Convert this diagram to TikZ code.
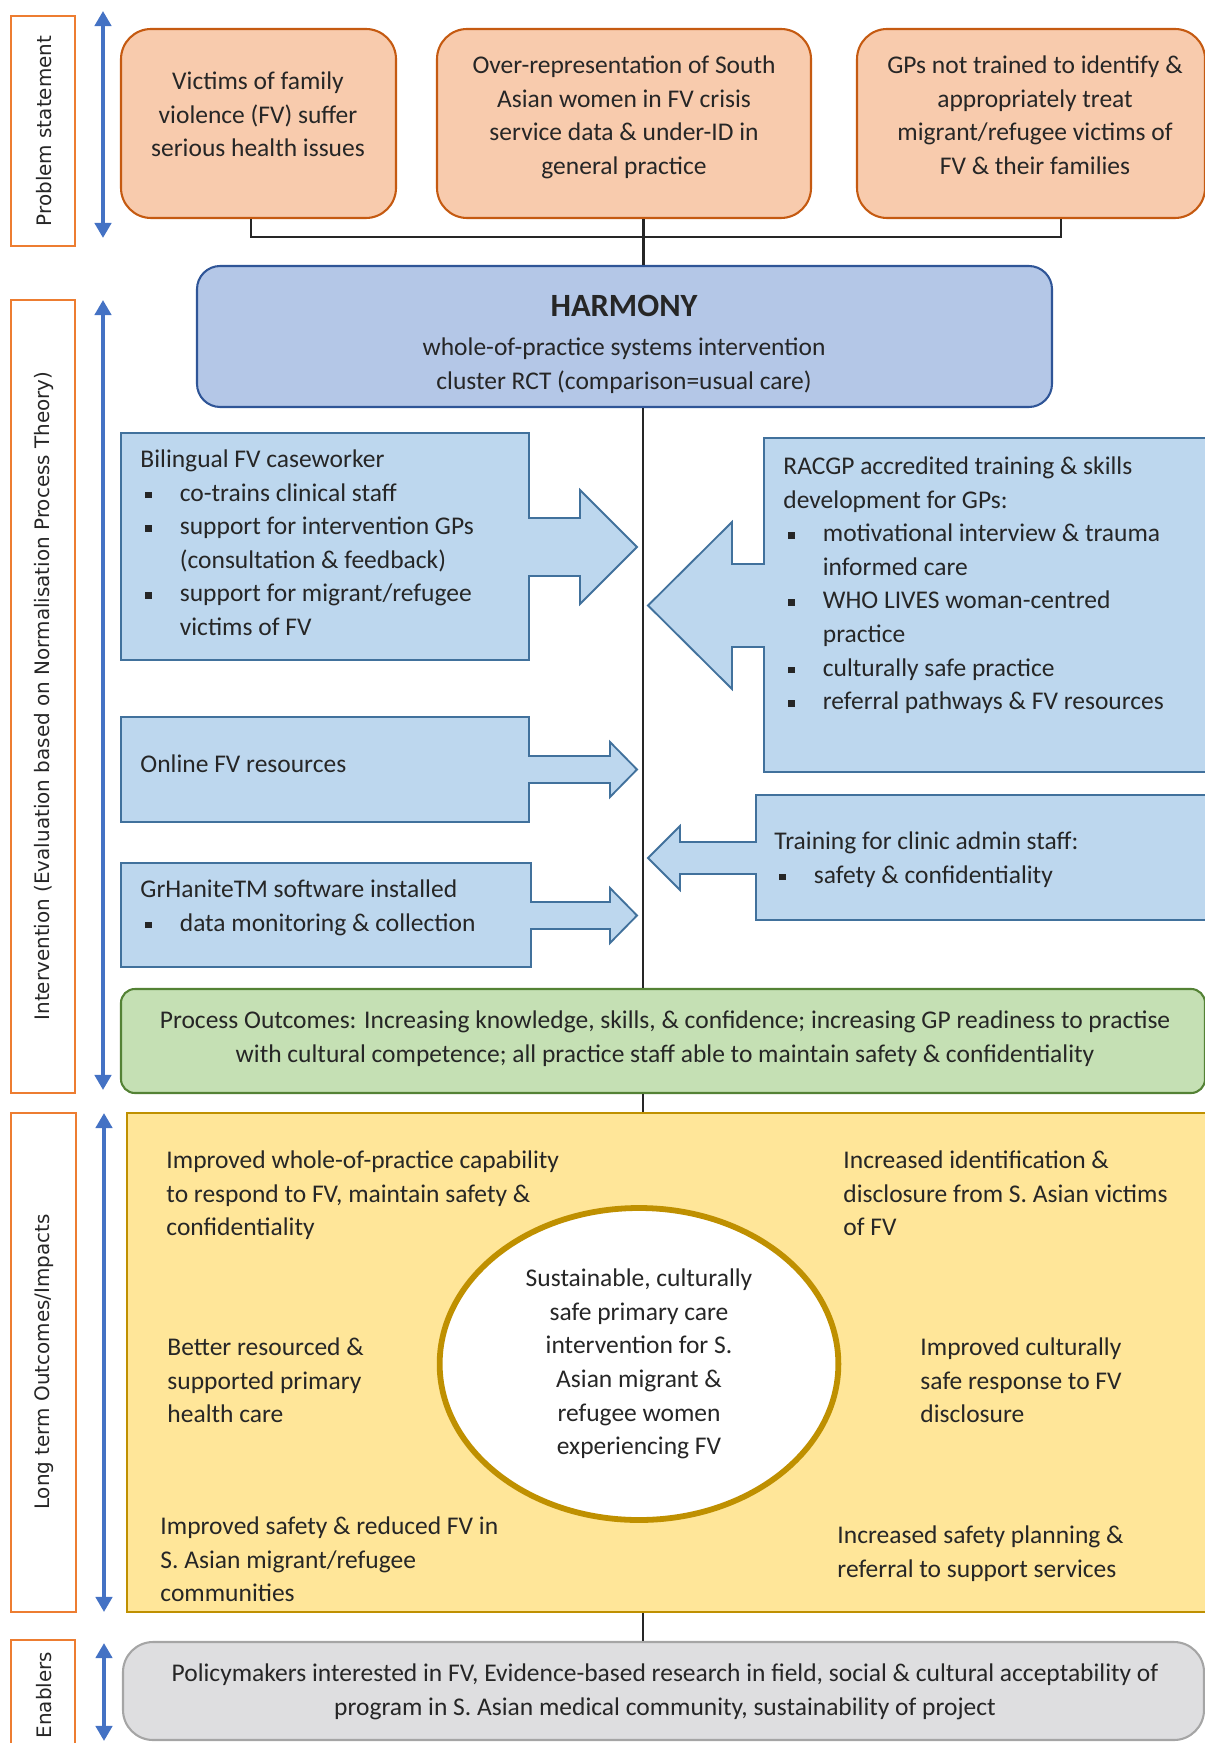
\documentclass[tikz,border=0pt]{standalone}
\usepackage{fontspec}
\setmainfont{Carlito}
\newfontfamily\lblfont{DejaVu Sans}
\usepackage{tikz}
\usetikzlibrary{fit,shapes.geometric,arrows.meta}

\definecolor{lorange}{HTML}{ED7D31}
\definecolor{pfill}{HTML}{F8CBAD}
\definecolor{pdraw}{HTML}{C55A11}
\definecolor{hfill}{HTML}{B4C7E7}
\definecolor{hdraw}{HTML}{2F5597}
\definecolor{ifill}{HTML}{BDD7EE}
\definecolor{idraw}{HTML}{41719C}
\definecolor{gfill}{HTML}{C5E0B4}
\definecolor{gdraw}{HTML}{548235}
\definecolor{yfill}{HTML}{FFE699}
\definecolor{ydraw}{HTML}{BF9000}
\definecolor{efill}{HTML}{DEDEE0}
\definecolor{edraw}{HTML}{A5A5A5}
\definecolor{barrow}{HTML}{4472C4}
\definecolor{tdark}{HTML}{262626}

\newcommand{\bul}{\makebox[17pt][l]{\hspace{2pt}\rule[1.3pt]{2.8pt}{2.8pt}}}
\newcommand{\ind}{\hspace*{17pt}}

\tikzset{
  body/.style={font=\fontsize{11}{14.5}\selectfont, text=tdark},
  txt/.style={body, align=left, anchor=north west, inner sep=0pt, yshift=6.8pt, execute at begin node=\strut},
  ctxt/.style={body, align=center, anchor=north, inner sep=0pt, yshift=6.8pt, execute at begin node=\strut},
  lblbox/.style={draw=lorange, line width=0.9pt, fill=white, inner sep=0pt},
  lbltext/.style={rotate=90, font=\lblfont\fontsize{8.6}{10}\selectfont, text=tdark},
  pbox/.style={draw=pdraw, fill=pfill, line width=0.9pt, rounded corners=13pt, inner sep=0pt},
  hbox/.style={draw=hdraw, fill=hfill, line width=0.9pt, rounded corners=10pt, inner sep=0pt},
  ibox/.style={draw=idraw, fill=ifill, line width=0.8pt},
  gbox/.style={draw=gdraw, fill=gfill, line width=0.9pt, rounded corners=6pt, inner sep=0pt},
  ybox/.style={draw=ydraw, fill=yfill, line width=0.9pt, inner sep=0pt},
  ebox/.style={draw=edraw, fill=efill, line width=0.9pt, rounded corners=13pt, inner sep=0pt},
  conn/.style={draw=tdark, line width=0.9pt},
  span/.style={draw=barrow, line width=1.7pt, {Triangle[width=7pt,length=6.5pt]}-{Triangle[width=7pt,length=6.5pt]}}
}

\begin{document}
\begin{tikzpicture}[x=0.4314pt,y=-0.4314pt]
    \useasboundingbox (0,0) rectangle (1204,1743);

    % side labels
    \node[lblbox, fit={(11,16) (75,246)}] (lps) {};
    \node[lbltext] (lpstext) at (44,131) {Problem statement};
    \node[lblbox, fit={(11,300) (75,1093)}] (lint) {};
    \node[lbltext] (linttext) at (44,696) {Intervention (Evaluation based on Normalisation Process Theory)};
    \node[lblbox, fit={(11,1113) (76,1612)}] (llong) {};
    \node[lbltext] (llongtext) at (44,1362) {Long term Outcomes/Impacts};
    \node[lblbox, fit={(11,1640) (75,1760)}] (lenab) {};
    \node[lbltext] (lenabtext) at (44,1695) {Enablers};

    \coordinate (a1) at (103,11); \coordinate (b1) at (103,238);
    \coordinate (a2) at (103,300); \coordinate (b2) at (103,1090);
    \coordinate (a3) at (104,1113); \coordinate (b3) at (104,1612);
    \coordinate (a4) at (104,1643); \coordinate (b4) at (104,1741);
    \draw[span] (a1) -- (b1);
    \draw[span] (a2) -- (b2);
    \draw[span] (a3) -- (b3);
    \draw[span] (a4) -- (b4);

    % problem statement
    \node[pbox, fit={(121,29) (396,218)}] (victims) {};
    \node[ctxt] (victimstext) at (258,87) {Victims of family\\violence (FV) suffer\\serious health issues};
    \node[pbox, fit={(437,29) (811,218)}] (overrep) {};
    \node[ctxt] (overreptext) at (624,71) {Over-representation of South\\Asian women in FV crisis\\service data \& under-ID in\\general practice};
    \node[pbox, fit={(857,29) (1205,218)}] (gps) {};
    \node[ctxt] (gpstext) at (1035,71) {GPs not trained to identify \&\\appropriately treat\\migrant/refugee victims of\\FV \& their families};

    \node[hbox, fit={(197,266) (1052,407)}] (harmony) {};
    \node[ctxt, font=\fontsize{14}{17}\selectfont\bfseries, yshift=5.15pt] (harmonytitle) at (624,316) {HARMONY};
    \node[ctxt] (harmonytext) at (624,353) {whole-of-practice systems intervention\\cluster RCT (comparison=usual care)};

    \coordinate (sp) at (643,0);
    \coordinate (vj) at (251,0);
    \coordinate (gj) at (1061,0);
    \coordinate (bar) at (0,237);
    \draw[conn] (victims.south -| vj) |- (bar -| gj) -- (gps.south -| gj);
    \draw[conn, line width=1.3pt] (overrep.south -| sp) -- (harmony.north -| sp);

    % intervention
    \draw[ibox] (121,433) -- (529,433) -- (529,518) -- (580,518) -- (580,490) -- (637,547) -- (580,604) -- (580,576) -- (529,576) -- (529,660) -- (121,660) -- cycle;
    \node[txt] (casework) at (140,465) {Bilingual FV caseworker\\\bul co-trains clinical staff\\\bul support for intervention GPs\\\ind (consultation \& feedback)\\\bul support for migrant/refugee\\\ind victims of FV};

    \draw[ibox] (121,717) -- (529,717) -- (529,756) -- (610,756) -- (610,742) -- (637,769.5) -- (610,797) -- (610,783) -- (529,783) -- (529,822) -- (121,822) -- cycle;
    \node[txt] (online) at (140,764) {Online FV resources};

    \draw[ibox] (121,863) -- (531,863) -- (531,902) -- (610,902) -- (610,888) -- (637,915.5) -- (610,943) -- (610,929) -- (531,929) -- (531,967) -- (121,967) -- cycle;
    \node[txt] (grhanite) at (140,895) {GrHaniteTM software installed\\\bul data monitoring \& collection};

    \draw[ibox] (1210,438) -- (764,438) -- (764,564) -- (732,564) -- (732,522) -- (648,605.5) -- (732,689) -- (732,647) -- (764,647) -- (764,772) -- (1210,772) -- cycle;
    \node[txt] (racgp) at (783,472) {RACGP accredited training \& skills\\development for GPs:\\\bul motivational interview \& trauma\\\ind informed care\\\bul WHO LIVES woman-centred\\\ind practice\\\bul culturally safe practice\\\bul referral pathways \& FV resources};

    \draw[ibox] (1210,795) -- (756,795) -- (756,842) -- (680,842) -- (680,826) -- (648,858) -- (680,890) -- (680,874) -- (756,874) -- (756,920) -- (1210,920) -- cycle;
    \node[txt] (admin) at (774,847) {Training for clinic admin staff:\\\bul safety \& confidentiality};

    \node[gbox, fit={(121,989) (1205,1093)}] (process) {};
    \node[ctxt] (processtext) at (665,1026) {Process Outcomes: Increasing knowledge, skills, \& confidence; increasing GP readiness to practise\\with cultural competence; all practice staff able to maintain safety \& confidentiality};

    \draw[conn] (harmony.south -| sp) -- (process.north -| sp);

    % long term outcomes
    \node[ybox, fit={(127,1113) (1208,1612)}] (longterm) {};
    \draw[conn] (process.south -| sp) -- (longterm.north -| sp);

    \node[ellipse, draw=ydraw, line width=2.5pt, fill=white, minimum width=172pt, minimum height=134.6pt, inner sep=0pt, body, align=center] (core) at (639,1364) {Sustainable, culturally\\safe primary care\\intervention for S.\\Asian migrant \&\\refugee women\\experiencing FV};

    \node[txt] (capab) at (166,1166) {Improved whole-of-practice capability\\to respond to FV, maintain safety \&\\confidentiality};
    \node[txt] (ident) at (843,1166) {Increased identification \&\\disclosure from S. Asian victims\\of FV};
    \node[txt] (resourced) at (167,1353) {Better resourced \&\\supported primary\\health care};
    \node[txt] (response) at (920,1353) {Improved culturally\\safe response to FV\\disclosure};
    \node[txt] (safety) at (160,1532) {Improved safety \& reduced FV in\\S. Asian migrant/refugee\\communities};
    \node[txt] (planning) at (837,1541) {Increased safety planning \&\\referral to support services};

    % enablers
    \node[ebox, fit={(123,1642) (1204,1740)}] (enab) {};
    \node[ctxt] (enabtext) at (665,1679) {Policymakers interested in FV, Evidence-based research in field, social \& cultural acceptability of\\program in S. Asian medical community, sustainability of project};
    \draw[conn] (longterm.south -| sp) -- (enab.north -| sp);
\end{tikzpicture}
\end{document}
